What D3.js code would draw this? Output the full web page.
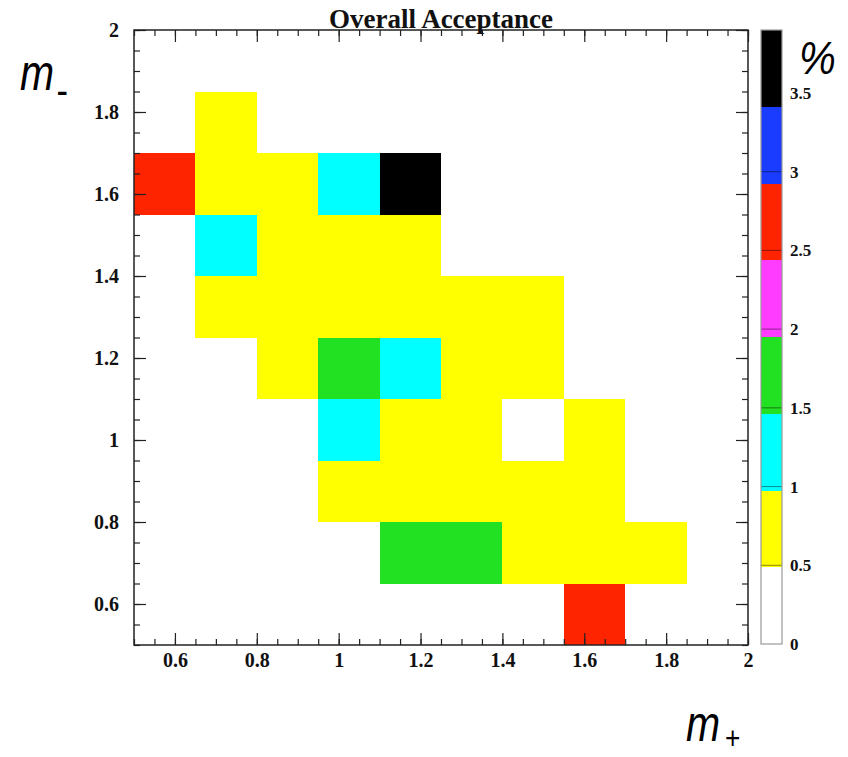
<!DOCTYPE html>
<html>
<head>
<meta charset="utf-8">
<script src="https://cdn.jsdelivr.net/npm/d3@7"></script>
<style>
  body { margin: 0; background: #fff; }
  svg { display: block; }
</style>
</head>
<body>
<div id="chart"></div>
<script>

// bins of m+ / m- (width 0.15 from 0.5 to 2.0)
var binEdges = [0.5, 0.65, 0.8, 0.95, 1.1, 1.25, 1.4, 1.55, 1.7, 1.85, 2.0];
var binWidth = 0.15;

// filled cells : centre in m+, centre in m-, acceptance in %
var cellMPlus  = [0.725,
                  0.575, 0.725, 0.875, 1.025, 1.175,
                  0.725, 0.875, 1.025, 1.175,
                  0.725, 0.875, 1.025, 1.175, 1.325, 1.475,
                  0.875, 1.025, 1.175, 1.325, 1.475,
                  1.025, 1.175, 1.325, 1.475, 1.625,
                  1.025, 1.175, 1.325, 1.475, 1.625,
                  1.175, 1.325, 1.475, 1.625, 1.775,
                  1.625];
var cellMMinus = [1.775,
                  1.625, 1.625, 1.625, 1.625, 1.625,
                  1.475, 1.475, 1.475, 1.475,
                  1.325, 1.325, 1.325, 1.325, 1.325, 1.325,
                  1.175, 1.175, 1.175, 1.175, 1.175,
                  1.025, 1.025, 1.025, 1.025, 1.025,
                  0.875, 0.875, 0.875, 0.875, 0.875,
                  0.725, 0.725, 0.725, 0.725, 0.725,
                  0.575];
var cellAccept = [0.80,
                  2.70, 0.85, 0.80, 1.20, 3.70,
                  1.15, 0.75, 0.80, 0.70,
                  0.65, 0.75, 0.80, 0.75, 0.70, 0.60,
                  0.70, 1.70, 1.25, 0.80, 0.65,
                  1.10, 0.75, 0.70, 0.35, 0.60,
                  0.70, 0.80, 0.75, 0.70, 0.65,
                  1.65, 1.60, 0.75, 0.70, 0.60,
                  2.60];

// axis ticks
var xTicks = [0.6, 0.8, 1, 1.2, 1.4, 1.6, 1.8, 2];
var yTicks = [0.6, 0.8, 1, 1.2, 1.4, 1.6, 1.8, 2];
var zTicks = [0, 0.5, 1, 1.5, 2, 2.5, 3, 3.5];
var zMax = 3.9;

var palette = ["#ffffff", "#ffff00", "#00ffff", "#22e022", "#ff3cff", "#ff2400", "#1a3cff", "#000000"];

var width = 848, height = 757;

var svg = d3.select("#chart").append("svg")
    .attr("width", width)
    .attr("height", height);

var x = d3.scaleLinear().domain([0.5, 2]).range([134, 748]);
var y = d3.scaleLinear().domain([0.5, 2]).range([645, 30]);
var z = d3.scaleLinear().domain([0, zMax]).range([644, 30]);
var color = d3.scaleQuantize().domain([0, zMax]).range(palette);

// cells
var cells = cellAccept.map(function (v, i) {
  return { mp: cellMPlus[i], mm: cellMMinus[i], v: v };
});

svg.append("g").selectAll("rect")
    .data(cells)
    .enter().append("rect")
    .attr("x", function (d) { return x(d.mp - binWidth / 2); })
    .attr("y", function (d) { return y(d.mm + binWidth / 2); })
    .attr("width", function (d) { return x(d.mp + binWidth / 2) - x(d.mp - binWidth / 2); })
    .attr("height", function (d) { return y(d.mm - binWidth / 2) - y(d.mm + binWidth / 2); })
    .attr("fill", function (d) { return color(d.v); })
    .attr("shape-rendering", "crispEdges");

// minor tick positions every 0.05
var minor = d3.range(0.5, 2.0001, 0.05).map(function (d) { return Math.round(d * 100) / 100; });

function styleAxis(g) {
  g.select(".domain").remove();
  g.selectAll("line").attr("stroke", "#222").attr("stroke-width", 1.2);
  g.selectAll("text")
    .attr("font-family", "'Liberation Serif', 'Times New Roman', serif")
    .attr("font-weight", "bold")
    .attr("font-size", 20)
    .attr("fill", "#111");
}

// bottom
svg.append("g").attr("transform", "translate(0,645)")
    .call(d3.axisBottom(x).tickValues(minor).tickSize(-6).tickFormat(""))
    .call(styleAxis);
svg.append("g").attr("transform", "translate(0,645)")
    .call(d3.axisBottom(x).tickValues(xTicks).tickSize(-12).tickPadding(8).tickFormat(d3.format("~g")))
    .call(styleAxis);
// top
svg.append("g").attr("transform", "translate(0,30)")
    .call(d3.axisTop(x).tickValues(minor).tickSize(-6).tickFormat(""))
    .call(styleAxis);
svg.append("g").attr("transform", "translate(0,30)")
    .call(d3.axisTop(x).tickValues(xTicks).tickSize(-12).tickFormat(""))
    .call(styleAxis);
// left
svg.append("g").attr("transform", "translate(134,0)")
    .call(d3.axisLeft(y).tickValues(minor).tickSize(-6).tickFormat(""))
    .call(styleAxis);
svg.append("g").attr("transform", "translate(134,0)")
    .call(d3.axisLeft(y).tickValues(yTicks).tickSize(-12).tickPadding(15).tickFormat(d3.format("~g")))
    .call(styleAxis);
// right
svg.append("g").attr("transform", "translate(748,0)")
    .call(d3.axisRight(y).tickValues(minor).tickSize(-6).tickFormat(""))
    .call(styleAxis);
svg.append("g").attr("transform", "translate(748,0)")
    .call(d3.axisRight(y).tickValues(yTicks).tickSize(-12).tickFormat(""))
    .call(styleAxis);

// frame
svg.append("rect")
    .attr("x", 134).attr("y", 30)
    .attr("width", 748 - 134).attr("height", 645 - 30)
    .attr("fill", "none")
    .attr("stroke", "#222")
    .attr("stroke-width", 1.5);

// colour bar
var barX = 761, barW = 21;
var bar = svg.append("g");
bar.selectAll("rect")
    .data(palette)
    .enter().append("rect")
    .attr("x", barX)
    .attr("width", barW)
    .attr("y", function (c) { return z(color.invertExtent(c)[1]); })
    .attr("height", function (c) { var e = color.invertExtent(c); return z(e[0]) - z(e[1]); })
    .attr("fill", function (c) { return c; })
    .attr("shape-rendering", "crispEdges");

bar.selectAll("line.lev")
    .data(zTicks.slice(1))
    .enter().append("line")
    .attr("class", "lev")
    .attr("x1", barX).attr("x2", barX + barW)
    .attr("y1", function (d) { return z(d); })
    .attr("y2", function (d) { return z(d); })
    .attr("stroke", "rgba(0,0,0,0.45)")
    .attr("stroke-width", 1);

bar.append("rect")
    .attr("x", barX).attr("y", 30)
    .attr("width", barW).attr("height", 644 - 30)
    .attr("fill", "none")
    .attr("stroke", "#999")
    .attr("stroke-width", 1.2);

svg.append("g").attr("transform", "translate(" + (barX + barW) + ",0)")
    .call(d3.axisRight(z).tickValues(zTicks).tickSize(0).tickPadding(8).tickFormat(d3.format("~g")))
    .call(styleAxis)
    .selectAll("text").attr("font-size", 17);

// title
svg.append("text")
    .attr("x", 441).attr("y", 28)
    .attr("text-anchor", "middle")
    .attr("font-family", "'Liberation Serif', 'Times New Roman', serif")
    .attr("font-weight", "bold")
    .attr("font-size", 27)
    .attr("fill", "#111")
    .text("Overall Acceptance");

// axis titles
var sans = "'Liberation Sans', Arial, sans-serif";

var mMinus = svg.append("text")
    .attr("transform", "translate(20,90) scale(0.82,1)")
    .attr("font-family", sans)
    .attr("font-style", "italic")
    .attr("font-size", 50)
    .attr("fill", "#000");
mMinus.append("tspan").text("m");
mMinus.append("tspan").attr("dx", 3).attr("dy", 15).attr("font-size", 42).attr("font-style", "normal").text("-");

var mPlus = svg.append("text")
    .attr("transform", "translate(686,741) scale(0.82,1)")
    .attr("font-family", sans)
    .attr("font-style", "italic")
    .attr("font-size", 50)
    .attr("fill", "#000");
mPlus.append("tspan").text("m");
mPlus.append("tspan").attr("dx", 6).attr("dy", 8).attr("font-size", 32).attr("font-style", "normal").text("+");

svg.append("text")
    .attr("transform", "translate(799,74) scale(0.9,1)")
    .attr("font-family", sans)
    .attr("font-style", "italic")
    .attr("font-size", 46)
    .attr("fill", "#000")
    .text("%");

</script>
</body>
</html>
